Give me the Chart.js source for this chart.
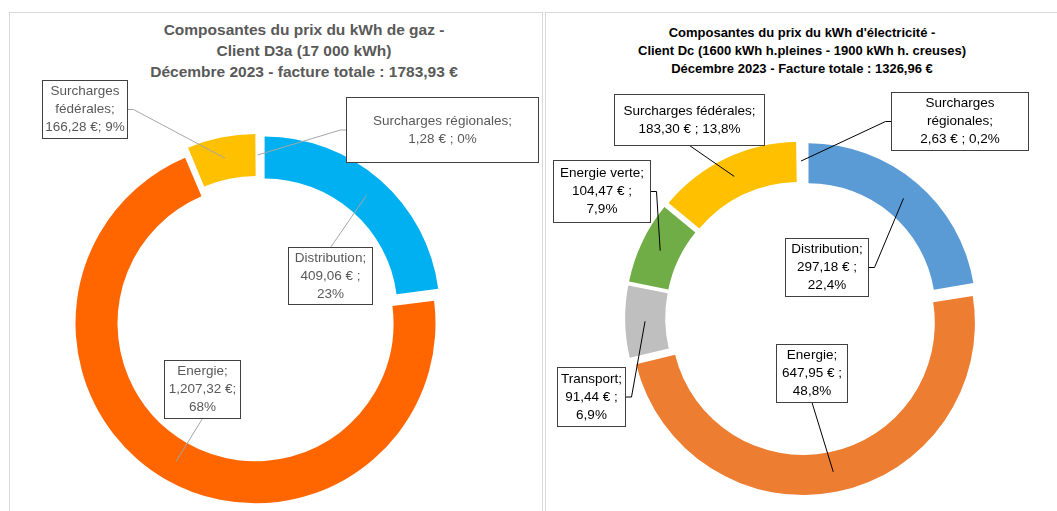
<!DOCTYPE html>
<html>
<head>
<meta charset="utf-8">
<script src="https://cdn.jsdelivr.net/npm/chart.js@4.4.1/dist/chart.umd.min.js"></script>
<style>
  html,body{margin:0;padding:0;background:#fff;width:1057px;height:511px;overflow:hidden;}
  .panel{position:absolute;top:12px;height:520px;border:1px solid #d9d9d9;box-sizing:border-box;}
  .title{position:absolute;text-align:center;white-space:nowrap;font-family:"Liberation Sans",Arial,sans-serif;font-weight:bold;}
  canvas{position:absolute;top:0;}
</style>
</head>
<body>
<div class="panel" style="left:9px;width:534px"></div>
<div class="panel" style="left:545px;width:530px"></div>
<div class="title" id="gasTitle" style="left:104px;width:400px;top:20px;font-size:15.5px;line-height:20.8px;color:#595959"></div>
<div class="title" id="elecTitle" style="left:602px;width:400px;top:24px;font-size:13px;line-height:18px;color:#000"></div>
<canvas id="gasChart" width="544" height="511" style="left:0"></canvas>
<canvas id="elecChart" width="513" height="511" style="left:544px"></canvas>
<script>
// gaz - client D3a
const gasTitle = ['Composantes du prix du kWh de gaz -', 'Client D3a (17 000 kWh)', 'Décembre 2023 - facture totale : 1783,93 €'];
const gasLabels = ['Distribution', 'Energie', 'Surcharges fédérales', 'Surcharges régionales'];
// slice sizes as drawn in the picture (the typed labels below say 1207,32 / 166,28)
const gasValues = [409.06, 1262.0, 111.6, 1.28];
const gasText = [
  ['Distribution;', '409,06 € ;', '23%'],
  ['Energie;', '1,207,32 €;', '68%'],
  ['Surcharges', 'fédérales;', '166,28 €; 9%'],
  ['Surcharges régionales;', '1,28 € ; 0%']
];

// électricité - client Dc
const elecTitle = ["Composantes du prix du kWh d'électricité -", 'Client Dc (1600 kWh h.pleines - 1900 kWh h. creuses)', 'Décembre 2023 - Facture totale : 1326,96 €'];
const elecLabels = ['Distribution', 'Energie', 'Transport', 'Energie verte', 'Surcharges fédérales', 'Surcharges régionales'];
const elecValues = [297.18, 647.95, 91.44, 104.47, 183.30, 2.63];
const elecText = [
  ['Distribution;', '297,18 € ;', '22,4%'],
  ['Energie;', '647,95 € ;', '48,8%'],
  ['Transport;', '91,44 € ;', '6,9%'],
  ['Energie verte;', '104,47 € ;', '7,9%'],
  ['Surcharges fédérales;', '183,30 € ; 13,8%'],
  ['Surcharges', 'régionales;', '2,63 € ; 0,2%']
];

// callout boxes, relative to the doughnut centre
const gasBoxes = [
  {x: 30, y: -72, w: 84, h: 57, side: 'top'},
  {x: -94, y: 41, w: 76, h: 58, side: 'bottom'},
  {x: -216, y: -239, w: 85, h: 58, side: 'right'},
  {x: 88, y: -222, w: 192, h: 65, side: 'left'}
];
const elecBoxes = [
  {x: -17, y: -80, w: 83, h: 58, side: 'right'},
  {x: -26, y: 26, w: 71, h: 58, side: 'bottom'},
  {x: -245, y: 49, w: 68, h: 59, side: 'right'},
  {x: -249, y: -158, w: 97, h: 62, side: 'right'},
  {x: -188, y: -224, w: 150, h: 51, side: 'bottom'},
  {x: 89, y: -226, w: 137, h: 58, side: 'left'}
];

function fillTitle(id, lines){
  const d = document.getElementById(id);
  lines.forEach(t => { const l = document.createElement('div'); l.textContent = t; d.appendChild(l); });
}
fillTitle('gasTitle', gasTitle);
fillTitle('elecTitle', elecTitle);

const callouts = {
  id: 'callouts',
  afterDatasetsDraw(chart, args, opts){
    const ctx = chart.ctx;
    const arcs = chart.getDatasetMeta(0).data;
    ctx.save();
    ctx.font = '13.5px "Liberation Sans", Arial, sans-serif';
    ctx.lineWidth = 1;
    arcs.forEach((arc, i) => {
      const box = opts.boxes[i], lines = opts.text[i];
      const mid = (arc.startAngle + arc.endAngle) / 2;
      const rad = (arc.innerRadius + arc.outerRadius) / 2 + opts.explode;
      const ax = arc.x + Math.cos(mid) * rad, ay = arc.y + Math.sin(mid) * rad;
      const bx = Math.round(arc.x + box.x) + 0.5, by = Math.round(arc.y + box.y) + 0.5;
      let pts;
      if (box.side === 'top') pts = [[bx + box.w / 2, by]];
      else if (box.side === 'bottom') pts = [[bx + box.w / 2, by + box.h]];
      else if (box.side === 'left') pts = [[bx, by + box.h / 2], [bx - 6, by + box.h / 2]];
      else pts = [[bx + box.w, by + box.h / 2], [bx + box.w + 6, by + box.h / 2]];
      ctx.strokeStyle = opts.lineColor;
      ctx.beginPath();
      ctx.moveTo(pts[0][0], pts[0][1]);
      pts.slice(1).forEach(p => ctx.lineTo(p[0], p[1]));
      ctx.lineTo(ax, ay);
      ctx.stroke();
      ctx.fillStyle = '#fff';
      ctx.fillRect(bx, by, box.w, box.h);
      ctx.strokeStyle = opts.boxColor;
      ctx.strokeRect(bx, by, box.w, box.h);
      ctx.fillStyle = opts.color;
      ctx.textAlign = 'center';
      ctx.textBaseline = 'middle';
      const lh = 18.2, y0 = by + box.h / 2 - (lines.length - 1) * lh / 2;
      lines.forEach((t, k) => ctx.fillText(t, bx + box.w / 2, y0 + k * lh));
    });
    ctx.restore();
  }
};

function makeChart(id, labels, values, colors, offsets, radius, pad, calloutOpts){
  return new Chart(document.getElementById(id), {
    type: 'doughnut',
    data: { labels, datasets: [{ data: values, backgroundColor: colors, borderWidth: 0, offset: offsets, hoverOffset: 0 }] },
    options: {
      responsive: false, animation: false, radius, cutout: '76%',
      layout: { padding: pad },
      events: [],
      plugins: { legend: { display: false }, tooltip: { enabled: false }, callouts: calloutOpts }
    },
    plugins: [callouts]
  });
}

makeChart('gasChart', gasLabels, gasValues,
  ['#00B0F0', '#FF6600', '#FFC000', 'rgba(0,0,0,0)'],
  [40, 20, 25, 40], 175,
  {left: 68, right: 96, top: 129, bottom: 2},
  {boxes: gasBoxes, text: gasText, explode: 10, lineColor: '#a6a6a6', boxColor: '#404040', color: '#595959'});

makeChart('elecChart', elecLabels, elecValues,
  ['#5B9BD5', '#ED7D31', '#BFBFBF', '#70AD47', '#FFC000', 'rgba(0,0,0,0)'],
  [40, 21, 25, 26, 32, 40], 167,
  {left: 68, right: 65, top: 128, bottom: 3},
  {boxes: elecBoxes, text: elecText, explode: 10, lineColor: '#000', boxColor: '#404040', color: '#000'});
</script>
</body>
</html>
